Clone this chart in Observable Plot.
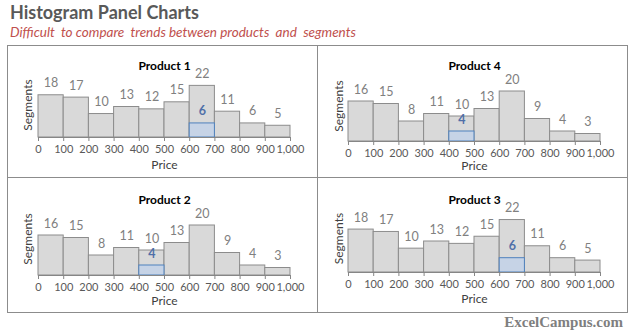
<!DOCTYPE html>
<html><head><meta charset="utf-8">
<script src="https://cdn.jsdelivr.net/npm/d3@7"></script>
<script src="https://cdn.jsdelivr.net/npm/@observablehq/plot@0.6"></script>
<style>
body{margin:0;background:#fff;font-family:Lato,"Open Sans",sans-serif;width:633px;height:333px;position:relative;overflow:hidden}
#title{position:absolute;left:10px;top:1px;font-size:18px;font-weight:bold;color:#595959;white-space:nowrap}
#subtitle{position:absolute;left:10px;top:24px;font-size:13.5px;font-style:italic;color:#c0504d;white-space:nowrap}
#frame{position:absolute;left:7px;top:45px;width:621px;height:268px;border:1px solid #8c8c8c;box-sizing:border-box}
#vline{position:absolute;left:317px;top:45px;width:1px;height:268px;background:#8c8c8c}
#hline{position:absolute;left:7px;top:177px;width:621px;height:1px;background:#8c8c8c}
.panel{position:absolute}
#footer{position:absolute;right:10px;top:314px;font-family:"Liberation Serif",serif;font-weight:bold;font-size:15px;color:#7f7f7f}
</style></head>
<body>
<div id="title">Histogram Panel Charts</div>
<div id="subtitle">Difficult&nbsp; to compare&nbsp; trends between products&nbsp; and&nbsp; segments</div>
<div id="frame"></div><div id="vline"></div><div id="hline"></div>
<div id="footer">ExcelCampus.com</div>
<script>
// ---- data ----
const binStarts = [0, 100, 200, 300, 400, 500, 600, 700, 800, 900];
const tickValues = [0, 100, 200, 300, 400, 500, 600, 700, 800, 900, 1000];
const productNames = ["Product 1", "Product 4", "Product 2", "Product 3"];
const product1 = [18, 17, 10, 13, 12, 15, 22, 11, 6, 5];
const product4 = [16, 15, 8, 11, 10, 13, 20, 9, 4, 3];
const product2 = [16, 15, 8, 11, 10, 13, 20, 9, 4, 3];
const product3 = [18, 17, 10, 13, 12, 15, 22, 11, 6, 5];
const highlightBin = [600, 400, 400, 600];
const highlightValue = [6, 4, 4, 6];
const xLabel = "Price";
const yLabel = "Segments";

// ---- layout (not data) ----
const layouts = [
  {left: 8,   top: 46,  h: 131, mt: 30, mb: 40, priceDy: 31, segDx: -10, segDy: -2},
  {left: 318, top: 46,  h: 131, mt: 30, mb: 36, priceDy: 28.5, segDx: -9,  segDy: -3},
  {left: 8,   top: 178, h: 134, mt: 32, mb: 37, priceDy: 29, segDx: -10, segDy: -4},
  {left: 318, top: 178, h: 134, mt: 32, mb: 40, priceDy: 30, segDx: -9,  segDy: -3}
];
const series = [product1, product4, product2, product3];

series.forEach((vals, i) => {
  const L = layouts[i];
  const bars = binStarts.map((b, j) => ({x1: b, x2: b + 100, v: vals[j]}));
  const hl = [{x1: highlightBin[i], x2: highlightBin[i] + 100, v: highlightValue[i]}];
  const chart = Plot.plot({
    width: 309, height: L.h,
    marginLeft: 30, marginRight: 27, marginTop: L.mt, marginBottom: L.mb,
    x: {domain: [0, 1000], axis: null},
    y: {domain: [0, 26], axis: null},
    style: {background: "transparent", fontFamily: "Lato, 'Open Sans', sans-serif", overflow: "visible"},
    marks: [
      Plot.rectY(bars, {x1: "x1", x2: "x2", y: "v", fill: "#d9d9d9", stroke: "#8c8c8c", strokeWidth: 1, inset: 0}),
      Plot.rectY(hl, {x1: "x1", x2: "x2", y: "v", fill: "#c6d3e6", stroke: "#4f81bd", strokeWidth: 1, inset: 0}),
      Plot.ruleY([0], {stroke: "#868686"}),
      Plot.axisX({ticks: tickValues, tickFormat: d3.format(","), tickSize: 4, tickPadding: 4, fontSize: 11, stroke: "#868686", fill: "#595959", label: null}),
      Plot.text(bars, {x: d => d.x1 + 50, y: "v", text: "v", dy: -12, fill: "#808080", fontSize: 12.5}),
      Plot.text(hl, {x: d => d.x1 + 50, y: "v", text: "v", dy: -12, fill: "#4f6fa8", fontSize: 12.5, fontWeight: "bold"}),
      Plot.text([productNames[i]], {frameAnchor: "top", dy: -15, fontSize: 12, fontWeight: "bold", fill: "#000"}),
      Plot.text([xLabel], {frameAnchor: "bottom", dy: L.priceDy, fontSize: 12, fill: "#404040"}),
      Plot.text([yLabel], {frameAnchor: "left", textAnchor: "middle", dx: L.segDx, dy: L.segDy, rotate: -90, fontSize: 12, fill: "#404040"})
    ]
  });
  chart.classList.add("panel");
  chart.style.left = L.left + "px";
  chart.style.top = L.top + "px";
  chart.style.position = "absolute";
  document.body.appendChild(chart);
});
</script>
</body></html>
